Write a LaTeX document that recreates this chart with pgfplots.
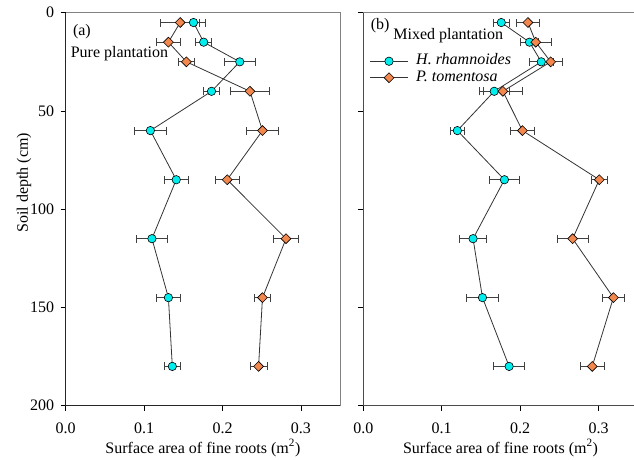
\documentclass[border=0pt]{standalone}
\usepackage{fontspec}
\setmainfont{Liberation Serif}
\usepackage{pgfplots}
\pgfplotsset{compat=1.18}
\usepackage{pgfplotstable}
\definecolor{cyanpt}{RGB}{0,238,238}
\definecolor{orangept}{RGB}{242,136,78}
\definecolor{bordergray}{RGB}{130,130,130}
\newcommand\fsz{\fontsize{16}{19}\selectfont}

\pgfplotstableread{
x y ex
0.163 5 0.015
0.176 15 0.010
0.222 25 0.020
0.186 40 0.010
0.108 60 0.020
0.141 85 0.015
0.110 115 0.020
0.131 145 0.015
0.136 180 0.010
}\pureH
\pgfplotstableread{
x y ex
0.146 5 0.025
0.131 15 0.015
0.154 25 0.010
0.235 40 0.025
0.251 60 0.020
0.206 85 0.015
0.281 115 0.016
0.251 145 0.010
0.246 180 0.011
}\pureP
\pgfplotstableread{
x y ex
0.176 5 0.010
0.212 15 0.011
0.227 25 0.015
0.167 40 0.019
0.120 60 0.009
0.180 85 0.019
0.140 115 0.017
0.152 145 0.020
0.186 180 0.020
}\mixH
\pgfplotstableread{
x y ex
0.210 5 0.015
0.220 15 0.020
0.239 25 0.015
0.178 40 0.025
0.203 60 0.015
0.301 85 0.010
0.267 115 0.020
0.319 145 0.014
0.292 180 0.015
}\mixP

\pgfplotsset{
  myaxis/.style={
    scale only axis, width=274.4pt, height=393pt,
    xmin=0, xmax=0.35, ymin=0, ymax=200, y dir=reverse,
    xtick={0,0.1,0.2,0.3}, ytick={0,50,100,150,200},
    tick align=outside, xtick pos=bottom, ytick pos=left,
    major tick length=5pt,
    tick style={black, line width=0.8pt},
    axis line style={draw=none},
    clip=false,
    /pgf/number format/assume math mode=true,
    tick label style={font=\fsz},
    label style={font=\fsz},
    xticklabel style={/pgf/number format/fixed, /pgf/number format/fixed zerofill, /pgf/number format/precision=1, yshift=-8.5pt},
    yticklabel style={xshift=-3pt},
    xlabel={Surface area of fine roots (m\textsuperscript{2})},
    xlabel style={at={(axis description cs:0.5,-0.1204)}, anchor=base},
    error bars/error bar style={line width=0.8pt, black!75},
    error bars/error mark options={line width=0.8pt, black!75, mark size=4pt, rotate=90},
  },
  cy/.style={color=black!80, line width=0.8pt, mark=*, mark size=4.2pt,
    mark options={fill=cyanpt, draw=black, line width=0.6pt},
    error bars/.cd, x dir=both, x explicit},
  orp/.style={color=black!80, line width=0.8pt, mark=square*, mark size=3.5pt,
    mark options={fill=orangept, draw=black, line width=0.6pt, rotate=45},
    error bars/.cd, x dir=both, x explicit},
}

\begin{document}
\begin{tikzpicture}
\begin{axis}[myaxis, at={(65.7pt,54.3pt)}, anchor=south west,
  ylabel={Soil depth (cm)},
  ylabel style={at={(axis description cs:-0.152,0.567)}, anchor=center, rotate=0},
]
\addplot[orp] table[x=x, y=y, x error=ex] {\pureP};
\addplot[cy] table[x=x, y=y, x error=ex] {\pureH};
\draw[black!85, line width=0.9pt] (axis description cs:0,1) -- (axis description cs:0,0) -- (axis description cs:1,0);
\draw[bordergray, line width=1.2pt] (axis description cs:0,1) -- (axis description cs:1,1) -- (axis description cs:1,0);
\node[font=\fsz, anchor=base west, inner sep=0pt] at (axis description cs:0.026,0.943) {(a)};
\node[font=\fsz, anchor=base west, inner sep=0pt] at (axis description cs:0.018,0.885) {Pure plantation};
\end{axis}
\begin{axis}[myaxis, at={(363.3pt,54.3pt)}, anchor=south west,
  yticklabels={},
  legend style={at={(axis description cs:0.023,0.898)}, anchor=north west, draw=none, fill=none,
    font=\fsz, inner sep=0pt, row sep=0pt,
    nodes={inner sep=1pt, text height=11pt, text depth=3.5pt},
    /tikz/every odd column/.append style={column sep=7pt}},
  legend cell align=left,
  legend image code/.code={\draw[mark repeat=2, mark phase=2, #1] plot coordinates {(0pt,0pt) (18.8pt,0pt) (37.6pt,0pt)};},
]
\addplot[cy] table[x=x, y=y, x error=ex] {\mixH};
\addlegendentry{\textit{H. rhamnoides}}
\addplot[orp] table[x=x, y=y, x error=ex] {\mixP};
\addlegendentry{\textit{P. tomentosa}}
\draw[black!70, line width=0.9pt] (axis description cs:0,1) -- (axis description cs:0,0) -- (axis description cs:1,0);
\draw[bordergray, line width=1.2pt] (axis description cs:0,1) -- (axis description cs:1,1) -- (axis description cs:1,0);
\node[font=\fsz, anchor=base west, inner sep=0pt] at (axis description cs:0.027,0.956) {(b)};
\node[font=\fsz, anchor=base west, inner sep=0pt] at (axis description cs:0.109,0.933) {Mixed plantation};
\end{axis}
\pgfresetboundingbox
\useasboundingbox (0pt,0pt) rectangle (634pt,460pt);
\end{tikzpicture}
\end{document}
